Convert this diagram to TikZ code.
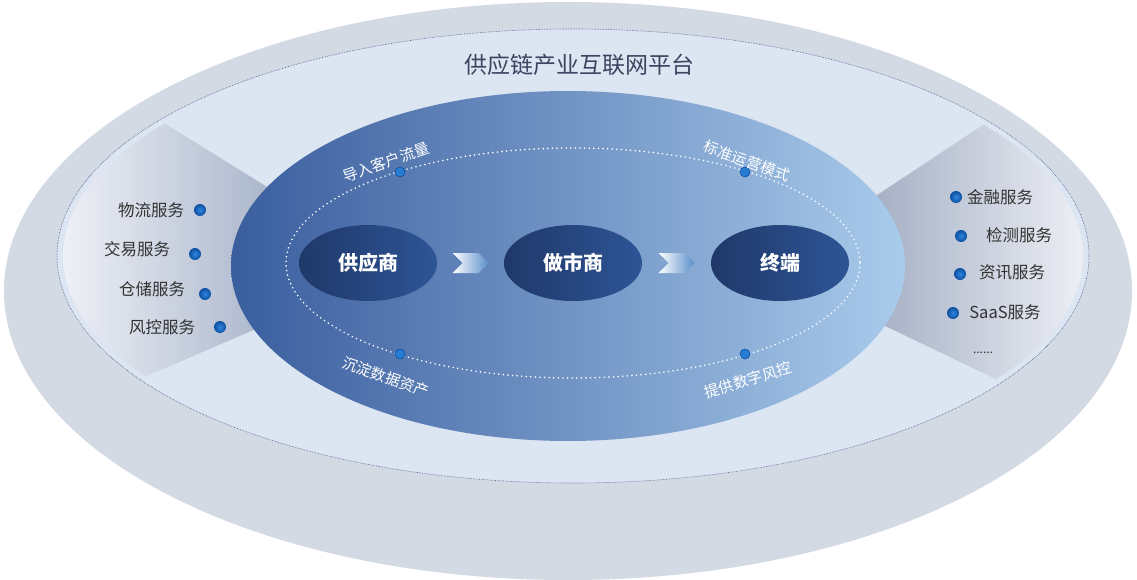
\documentclass[tikz,border=0pt]{standalone}
\usepackage{fontspec}
\setmainfont{Noto Sans CJK SC}
\usetikzlibrary{shapes.geometric,shapes.symbols,calc}
\definecolor{outerc}{HTML}{D3DAE4}
\definecolor{midc}{HTML}{DCE5F2}
\definecolor{bordc}{HTML}{4A5A85}
\definecolor{panelL}{HTML}{F6F7FB}
\definecolor{panelR}{HTML}{97A5BF}
\definecolor{panelRR}{HTML}{8C99B3}
\definecolor{innerL}{HTML}{3A5D9E}
\definecolor{innerR}{HTML}{A9CBEB}
\definecolor{nodeL}{HTML}{1F3869}
\definecolor{nodeR}{HTML}{2E5596}
\definecolor{arrowc}{HTML}{5B8FCB}
\definecolor{dotD}{HTML}{0D4FA0}
\definecolor{dotL}{HTML}{2F86E0}
\definecolor{titlec}{HTML}{3A4560}
\definecolor{itemc}{HTML}{333333}
\tikzset{
  mainnode/.style={ellipse, minimum width=138, minimum height=76, inner sep=0,
    left color=nodeL, right color=nodeR, text=white,
    font=\fontsize{20}{24}\selectfont\bfseries},
  flowarrow/.style={signal, signal to=east, signal from=west, minimum width=36,
    minimum height=20, inner sep=0, left color=white, right color=arrowc, draw=none},
  bdot/.style={circle, minimum size=12, inner sep=0, inner color=dotL, outer color=dotD},
  rdot/.style={circle, minimum size=10, inner sep=0, fill=dotL!80!dotD, draw=dotD, line width=0.6},
  ringlbl/.style={text=white, font=\fontsize{15}{18}\selectfont, inner sep=0},
  itemlbl/.style={text=itemc, font=\fontsize{16.5}{20}\selectfont, inner sep=0}
}
\begin{document}
\begin{tikzpicture}[x=1pt,y=-1pt]
\useasboundingbox (0,0) rectangle (1137,580);
\fill[white] (0,0) rectangle (1137,580);
% outer and middle ellipses
\fill[outerc] (568,291) ellipse [x radius=564, y radius=289];
\fill[midc] (573,256) ellipse [x radius=516, y radius=227];
\draw[bordc, line width=0.6, densely dotted] (573,256) ellipse [x radius=516, y radius=227];
% side panels
\begin{scope}
\clip (573,256) ellipse [x radius=510, y radius=221];
\shade[left color=panelL, right color=panelR] (40,46) -- (330,226) -- (330,297) -- (40,422) -- cycle;
\shade[left color=panelRR, right color=panelL] (800,246) -- (1110,41) -- (1110,434) -- (800,285) -- cycle;
\end{scope}
% inner blue ellipse
\shade[left color=innerL, right color=innerR] (568,266) ellipse [x radius=337, y radius=175];
\draw[white, line width=1.8, dash pattern=on 0pt off 4.6pt, line cap=round] (573,263) ellipse [x radius=287, y radius=115];
% title
\node[text=titlec, font=\fontsize{23}{28}\selectfont, inner sep=0] (title) at (579,65) {供应链产业互联网平台};
% main nodes
\node[mainnode] (sup) at (368,263) {供应商};
\node[mainnode] (mm) at (573,263) {做市商};
\node[mainnode] (end) at (780,263) {终端};
\node[flowarrow] (a1) at ($(sup.east)!0.5!(mm.west)$) {};
\node[flowarrow] (a2) at ($(mm.east)!0.5!(end.west)$) {};
% ring labels
\node[rdot] (d1) at (400,172) {};
\node[rdot] (d2) at (745,172) {};
\node[rdot] (d3) at (400,354) {};
\node[rdot] (d4) at (745,354) {};
\node[ringlbl, rotate=19] (l1) at (386,162) {导入客户流量};
\node[ringlbl, rotate=-20] (l2) at (747,161) {标准运营模式};
\node[ringlbl, rotate=-19] (l3) at (386,377) {沉淀数据资产};
\node[ringlbl, rotate=17] (l4) at (748,380) {提供数字风控};
% left services
\node[itemlbl] (s1) at (151,210) {物流服务};
\node[bdot] (b1) at (200,210) {};
\node[itemlbl] (s2) at (137,249) {交易服务};
\node[bdot] (b2) at (195,254) {};
\node[itemlbl] (s3) at (152,289) {仓储服务};
\node[bdot] (b3) at (205,294) {};
\node[itemlbl] (s4) at (162,327) {风控服务};
\node[bdot] (b4) at (220,327) {};
% right services
\node[bdot] (b5) at (956,197) {};
\node[itemlbl] (s5) at (1000,197) {金融服务};
\node[bdot] (b6) at (961,236) {};
\node[itemlbl] (s6) at (1019,235) {检测服务};
\node[bdot] (b7) at (960,274) {};
\node[itemlbl] (s7) at (1012,272) {资讯服务};
\node[bdot] (b8) at (953,313) {};
\node[itemlbl] (s8) at (1005,312) {SaaS服务};
\node[text=itemc, font=\fontsize{12}{14}\selectfont, inner sep=0] (more) at (983,353) {......};
\end{tikzpicture}
\end{document}
